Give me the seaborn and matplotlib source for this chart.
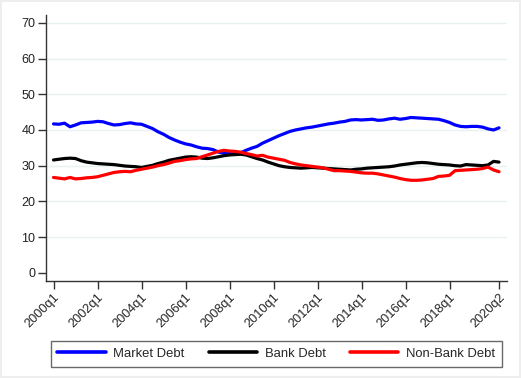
import numpy as np
import pandas as pd
import matplotlib
matplotlib.use("Agg")
import matplotlib.pyplot as plt
import seaborn as sns

quarters = [f"{y}q{q}" for y in range(2000, 2021) for q in range(1, 5)][:82]

market_debt = [41.7, 41.6, 41.9, 40.9, 41.4, 42.0, 42.1, 42.2, 42.4, 42.3,
               41.8, 41.4, 41.5, 41.8, 42.0, 41.7, 41.6, 41.0, 40.4, 39.5,
               38.8, 37.9, 37.2, 36.6, 36.1, 35.8, 35.3, 34.9, 34.8, 34.5,
               33.8, 33.5, 33.4, 33.3, 33.6, 34.3, 34.9, 35.4, 36.3, 37.0,
               37.7, 38.4, 39.0, 39.6, 40.0, 40.3, 40.6, 40.8, 41.1, 41.4,
               41.7, 41.9, 42.2, 42.4, 42.8, 42.9, 42.8, 42.9, 43.0, 42.7,
               42.8, 43.1, 43.3, 43.0, 43.2, 43.5, 43.4, 43.3, 43.2, 43.1,
               43.0, 42.6, 42.1, 41.4, 41.0, 40.9, 41.0, 41.0, 40.8, 40.3,
               40.0, 40.6]
bank_debt = [31.6, 31.8, 32.0, 32.1, 32.0, 31.4, 31.0, 30.8, 30.6, 30.5,
             30.4, 30.3, 30.1, 29.9, 29.8, 29.7, 29.5, 29.8, 30.1, 30.6,
             31.0, 31.5, 31.8, 32.1, 32.4, 32.5, 32.4, 32.1, 32.0, 32.2,
             32.5, 32.8, 33.0, 33.1, 33.2, 33.0, 32.5, 32.0, 31.6, 31.0,
             30.5, 30.0, 29.7, 29.5, 29.4, 29.3, 29.4, 29.5, 29.4, 29.3,
             29.2, 29.1, 29.0, 28.9, 28.8, 29.0, 29.1, 29.3, 29.4, 29.5,
             29.6, 29.7, 29.9, 30.2, 30.4, 30.6, 30.8, 30.9, 30.8, 30.6,
             30.4, 30.3, 30.2, 30.0, 29.9, 30.3, 30.2, 30.1, 30.0, 30.2,
             31.2, 31.0]
nonbank_debt = [26.7, 26.5, 26.3, 26.7, 26.3, 26.4, 26.6, 26.7, 26.9, 27.3,
                27.7, 28.1, 28.3, 28.4, 28.3, 28.7, 29.0, 29.3, 29.6, 30.0,
                30.3, 30.7, 31.2, 31.4, 31.7, 31.9, 32.0, 32.5, 33.0, 33.5,
                34.0, 34.3, 34.1, 34.0, 33.8, 33.4, 33.1, 32.7, 32.9, 32.4,
                32.1, 31.8, 31.5, 30.9, 30.5, 30.2, 30.0, 29.8, 29.6, 29.4,
                29.0, 28.6, 28.6, 28.5, 28.4, 28.2, 28.0, 27.9, 27.9, 27.7,
                27.4, 27.1, 26.8, 26.4, 26.1, 25.9, 25.9, 26.0, 26.2, 26.4,
                27.0, 27.1, 27.3, 28.6, 28.7, 28.8, 28.9, 29.0, 29.2, 29.6,
                28.8, 28.3]

series_names = ["Market Debt", "Bank Debt", "Non-Bank Debt"]
colors = ["#0000ff", "#000000", "#ff0000"]
tick_labels = ["2000q1", "2002q1", "2004q1", "2006q1", "2008q1", "2010q1",
               "2012q1", "2014q1", "2016q1", "2018q1", "2020q2"]
y_ticks = [0, 10, 20, 30, 40, 50, 60, 70]

n = len(quarters)
df = pd.DataFrame({
    "t": np.tile(np.arange(n), 3),
    "value": market_debt + bank_debt + nonbank_debt,
    "series": np.repeat(series_names, n),
})

sns.set_style("white")
plt.rcParams["font.family"] = ["Liberation Sans", "DejaVu Sans"]

fig = plt.figure(figsize=(5.21, 3.78), dpi=100)
fig.patch.set_edgecolor("#eeeeee")
fig.patch.set_linewidth(1.5)
ax = fig.add_axes([45.7 / 521, 1 - 281 / 378, (507 - 45.7) / 521, (281 - 15) / 378])

sns.lineplot(data=df, x="t", y="value", hue="series", hue_order=series_names,
             palette=colors, linewidth=2.3, ax=ax, legend=False)

ax.set_xlim(-1.42, 82.45)
ax.set_ylim(-2.3, 72.2)
ax.set_yticks(y_ticks)
ax.set_yticklabels([str(v) for v in y_ticks])
tick_pos = [quarters.index(q) for q in tick_labels]
ax.set_xticks(tick_pos)
ax.set_xticklabels(tick_labels, rotation=45, ha="right", rotation_mode="anchor")
ax.set_xlabel("")
ax.set_ylabel("")

for v in y_ticks[1:]:
    ax.axhline(v, color="#eaf1f2", linewidth=1.0, zorder=0)

for s in ["top", "right"]:
    ax.spines[s].set_visible(False)
for s in ["left", "bottom"]:
    ax.spines[s].set_color("#333333")
    ax.spines[s].set_linewidth(1.0)
ax.tick_params(axis="both", direction="out", length=5.5, width=1.0,
               color="#333333", labelsize=9, labelcolor="#222222", pad=2,
               left=True, bottom=True)
ax.tick_params(axis="x", labelsize=9.2)

handles = [plt.Line2D([], [], color=c, linewidth=2.6) for c in colors]
leg = fig.legend(handles, series_names, ncol=3, loc="center",
                 bbox_to_anchor=(50.7 / 521, 1 - 370.7 / 378, 451 / 521, 33.4 / 378),
                 mode="expand", fontsize=9.4, frameon=True, fancybox=False,
                 handlelength=3.7, handletextpad=0.6, columnspacing=1.8,
                 borderaxespad=0, borderpad=0.5)
leg.get_frame().set_edgecolor("#444444")
leg.get_frame().set_linewidth(1.0)

fig.savefig("out.png", dpi=100, edgecolor=fig.get_edgecolor())
